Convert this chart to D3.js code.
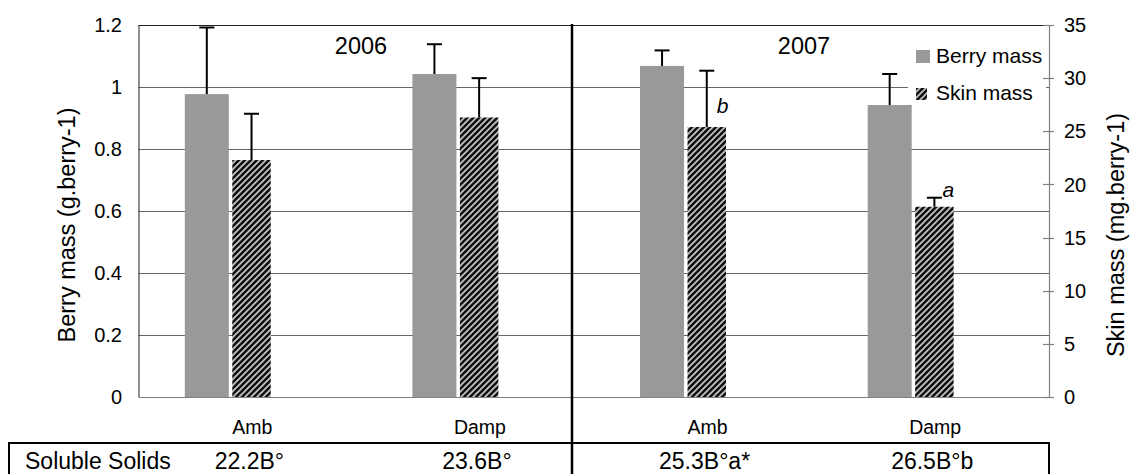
<!DOCTYPE html>
<html><head><meta charset="utf-8">
<script src="https://cdn.jsdelivr.net/npm/d3@7"></script>
<style>body{margin:0;background:#fff}svg{display:block;font-family:"Liberation Sans",Arial,sans-serif}</style>
</head><body>
<script>
const categories = ["Amb","Damp","Amb","Damp"];
const years = ["2006","2007"];
const berryMass = [0.977, 1.042, 1.068, 0.942];
const berryErr  = [0.215, 0.096, 0.050, 0.100];
const skinMass  = [22.3, 26.3, 25.4, 17.9];
const skinErr   = [4.35, 3.7, 5.3, 0.85];
const sigLetters = ["", "", "b", "a"];
const solubleSolids = ["22.2B°","23.6B°","25.3B°a*","26.5B°b"];
const tableLabel = "Soluble Solids";
const leftTicks = [0,0.2,0.4,0.6,0.8,1,1.2];
const rightTicks = [0,5,10,15,20,25,30,35];
const seriesNames = ["Berry mass","Skin mass"];
const leftTitle = "Berry mass (g.berry-1)";
const rightTitle = "Skin mass (mg.berry-1)";

const W=1130,H=474;
const L=138.5,R=1049,T=25,B=397;
const svg=d3.select("body").append("svg").attr("width",W).attr("height",H);
const defs=svg.append("defs");
const pat=defs.append("pattern").attr("id","hatch").attr("patternUnits","userSpaceOnUse").attr("width",6).attr("height",6);
pat.append("rect").attr("width",6).attr("height",6).attr("fill","#111");
pat.append("path").attr("d","M0,6 L6,0 M-1.5,1.5 L1.5,-1.5 M4.5,7.5 L7.5,4.5").attr("stroke","#c8c8c8").attr("stroke-width",1.6);

const x=d3.scaleBand().domain(d3.range(categories.length)).range([L,R]).paddingInner(0).paddingOuter(0);
const yL=d3.scaleLinear().domain([0,1.2]).range([B,T]);
const yR=d3.scaleLinear().domain([0,35]).range([B,T]);
const bw=x.bandwidth();

// gridlines
svg.append("g").selectAll("line").data(leftTicks.filter(d=>d>0&&d<1.2)).join("line")
  .attr("x1",L).attr("x2",R).attr("y1",d=>Math.round(yL(d))+0.5).attr("y2",d=>Math.round(yL(d))+0.5)
  .attr("stroke","#666").attr("stroke-width",1);
// top & left border
svg.append("line").attr("x1",L).attr("x2",R).attr("y1",T+0.5).attr("y2",T+0.5).attr("stroke","#222");
svg.append("line").attr("x1",L+0.5).attr("x2",L+0.5).attr("y1",T).attr("y2",B).attr("stroke","#222");

// legend background
svg.append("rect").attr("x",908).attr("y",38).attr("width",138).attr("height",70).attr("fill","#fff");

// bars
const bx0=i=>x(i)+bw*0.2034, bW=bw*0.1933;
const sx0=i=>x(i)+bw*0.412, sW=bw*0.169;
svg.append("g").selectAll("rect").data(berryMass).join("rect")
  .attr("x",(d,i)=>bx0(i)).attr("width",bW).attr("y",d=>yL(d)).attr("height",d=>B-yL(d)).attr("fill","#999999");
svg.append("g").selectAll("rect").data(skinMass).join("rect")
  .attr("x",(d,i)=>sx0(i)).attr("width",sW).attr("y",d=>yR(d)).attr("height",d=>B-yR(d)).attr("fill","url(#hatch)");

// error bars
function errBars(vals,errs,scale,cx){
  const g=svg.append("g").attr("stroke","#000").attr("stroke-width",2);
  vals.forEach((v,i)=>{
    const c=cx(i), y0=scale(v), y1=scale(v+errs[i]);
    g.append("line").attr("x1",c).attr("x2",c).attr("y1",y0).attr("y2",y1);
    g.append("line").attr("x1",c-7.5).attr("x2",c+7.5).attr("y1",y1).attr("y2",y1);
  });
}
errBars(berryMass,berryErr,yL,i=>bx0(i)+bW/2);
errBars(skinMass,skinErr,yR,i=>sx0(i)+sW/2);

// significance letters
const letterPos=[null,null,{dx:10,y:v=>yR(v)-14},{dx:8,y:v=>yR(v+skinErr[3])-1}];
sigLetters.forEach((s,i)=>{
  if(!s) return;
  svg.append("text").attr("x",sx0(i)+sW/2+letterPos[i].dx).attr("y",letterPos[i].y(skinMass[i]))
    .attr("font-size",21).attr("font-style","italic").text(s);
});

// bottom axis line
svg.append("line").attr("x1",L).attr("x2",R).attr("y1",B+0.5).attr("y2",B+0.5).attr("stroke","#808080").attr("stroke-width",1.2);
// right axis
svg.append("line").attr("x1",R+0.5).attr("x2",R+0.5).attr("y1",T).attr("y2",B).attr("stroke","#808080").attr("stroke-width",1.2);
svg.append("g").selectAll("line").data(rightTicks).join("line")
  .attr("x1",R-6).attr("x2",R+5).attr("y1",d=>Math.round(yR(d))+0.5).attr("y2",d=>Math.round(yR(d))+0.5)
  .attr("stroke","#808080").attr("stroke-width",1.2);

// tick labels
svg.append("g").selectAll("text").data(leftTicks).join("text")
  .attr("x",122).attr("y",d=>yL(d)).attr("dy","0.36em").attr("text-anchor","end").attr("font-size",20).text(d=>String(d));
svg.append("g").selectAll("text").data(rightTicks).join("text")
  .attr("x",1064).attr("y",d=>yR(d)).attr("dy","0.36em").attr("text-anchor","start").attr("font-size",20).text(d=>String(d));

// axis titles
svg.append("text").attr("transform",`translate(75,${(T+B)/2+14}) rotate(-90)`).attr("text-anchor","middle").attr("font-size",23.5).text(leftTitle);
svg.append("text").attr("transform",`translate(1124,${(T+B)/2+24}) rotate(-90)`).attr("text-anchor","middle").attr("font-size",23.5).text(rightTitle);

// category labels
svg.append("g").selectAll("text").data(categories).join("text")
  .attr("x",(d,i)=>x(i)+bw/2).attr("y",434).attr("text-anchor","middle").attr("font-size",19.5).text(d=>d);

// year labels
const yearX=[361,804];
years.forEach((yv,i)=>svg.append("text").attr("x",yearX[i]).attr("y",54).attr("text-anchor","middle").attr("font-size",23.5).text(yv));

// legend
svg.append("rect").attr("x",916).attr("y",50).attr("width",14).attr("height",13).attr("fill","#999999");
svg.append("rect").attr("x",916).attr("y",88).attr("width",11).attr("height",12).attr("fill","url(#hatch)");
svg.append("text").attr("x",936).attr("y",62.5).attr("font-size",21).text(seriesNames[0]);
svg.append("text").attr("x",936).attr("y",100).attr("font-size",21).text(seriesNames[1]);

// table
svg.append("path").attr("d",`M9,480 V443 H${R} V480`).attr("fill","none").attr("stroke","#000").attr("stroke-width",2);
svg.append("text").attr("x",25).attr("y",469).attr("font-size",23).text(tableLabel);
svg.append("g").selectAll("text").data(solubleSolids).join("text")
  .attr("x",(d,i)=>x(i)+bw/2-3).attr("y",469).attr("text-anchor","middle").attr("font-size",23).text(d=>d);

// divider
svg.append("line").attr("x1",572).attr("x2",572).attr("y1",24).attr("y2",H).attr("stroke","#000").attr("stroke-width",2.5);
</script>
</body></html>
